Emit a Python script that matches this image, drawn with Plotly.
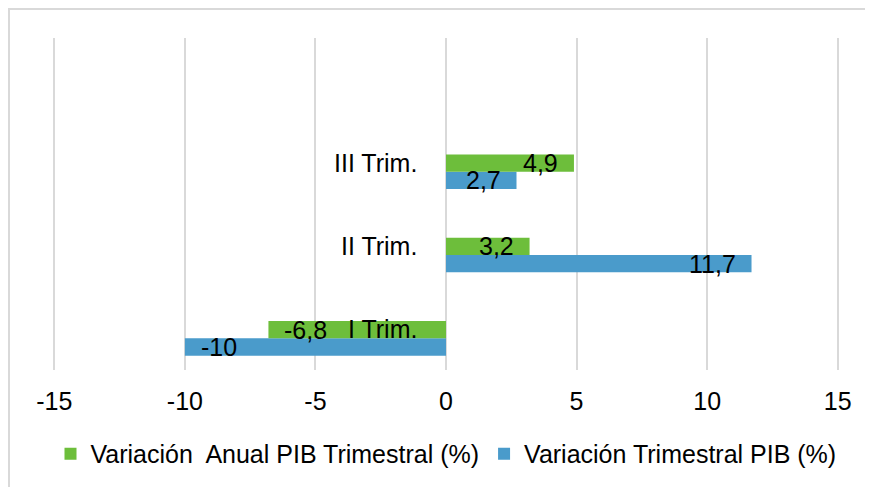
import plotly.graph_objects as go

categories = ["I Trim.", "II Trim.", "III Trim."]
anual = [-6.8, 3.2, 4.9]
trimestral = [-10, 11.7, 2.7]
x_ticks = [-15, -10, -5, 0, 5, 10, 15]
name_anual = "Variación\u00a0 Anual PIB Trimestral (%)"
name_trim = "Variación Trimestral PIB (%)"

GREEN = "#6DBE3B"
BLUE = "#4A9BCB"
FONT = "Liberation Sans, Arial, sans-serif"
FS = 25
BAR_W = 0.208

pos = list(range(len(categories)))

fig = go.Figure()
fig.add_bar(y=pos, x=trimestral, orientation="h", name=name_trim,
            marker=dict(color=BLUE, line=dict(width=0)), legendrank=2)
fig.add_bar(y=pos, x=anual, orientation="h", name=name_anual,
            marker=dict(color=GREEN, line=dict(width=0)), legendrank=1)

def fmt(v):
    return f"{v:g}".replace(".", ",")

ann = []
for i, c in enumerate(categories):
    ann.append(dict(x=0, y=i, xref="x", yref="y", text=c, showarrow=False,
                    xanchor="right", yanchor="middle", xshift=-27, yshift=9,
                    font=dict(size=FS, color="black", family=FONT)))
for vals, off in ((anual, BAR_W / 2), (trimestral, -BAR_W / 2)):
    for i, v in enumerate(vals):
        ann.append(dict(x=v, y=i + off, xref="x", yref="y", text=fmt(v),
                        showarrow=False,
                        xanchor="right" if v >= 0 else "left",
                        xshift=-14 if v >= 0 else 14, yanchor="middle",
                        font=dict(size=FS, color="black", family=FONT)))

fig.update_layout(
    width=865, height=479,
    margin=dict(l=45, r=34, t=30, b=117, autoexpand=False),
    paper_bgcolor="white", plot_bgcolor="white",
    font=dict(family=FONT, size=FS, color="black"),
    barmode="group", bargap=1 - 2 * BAR_W, bargroupgap=0,
    showlegend=True,
    legend=dict(orientation="h", x=0.5, xanchor="center", y=-0.253,
                yanchor="middle", font=dict(size=FS, color="black"),
                itemwidth=30, bgcolor="rgba(0,0,0,0)"),
    annotations=ann,
    shapes=[dict(type="rect", xref="paper", yref="paper",
                 x0=-0.056, x1=1.08, y0=-0.5, y1=1.087,
                 line=dict(color="#D9D9D9", width=2), layer="below")],
)
fig.update_xaxes(range=[-15.05, 15.05], tickvals=x_ticks,
                 ticktext=[str(t) for t in x_ticks],
                 showgrid=True, gridcolor="#D9D9D9", gridwidth=2,
                 zeroline=False, showline=False,
                 ticks="outside", ticklen=9, tickcolor="rgba(0,0,0,0)",
                 tickfont=dict(size=FS, color="black"))
fig.update_yaxes(range=[-0.38, 3.605], showgrid=False, zeroline=False,
                 showticklabels=False, showline=False)

fig.write_html("out.html")
